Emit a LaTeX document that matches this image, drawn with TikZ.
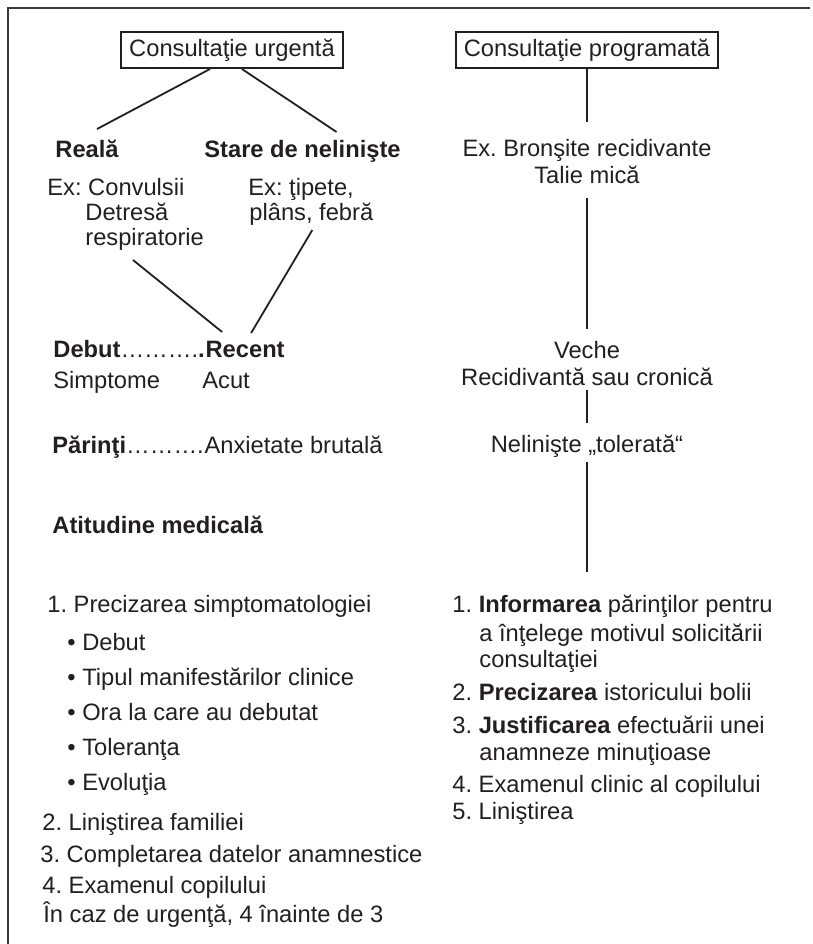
\documentclass[tikz,border=0pt]{standalone}
\usepackage{fontspec}
\setmainfont{Liberation Sans}
\usepackage{tikz}
\usetikzlibrary{positioning,calc}
\definecolor{ink}{HTML}{231F20}
\definecolor{frame}{HTML}{3A3A3A}
\newcommand{\fs}{\fontsize{11.85}{14}\selectfont\frenchspacing}
\tikzset{
  txt/.style={inner sep=0pt,anchor=base west,font=\fs,text=ink},
  mid/.style={inner sep=0pt,anchor=base,font=\fs,text=ink},
  hd/.style={txt,font=\fs\bfseries},
  caseta/.style={draw=ink,line width=1pt,inner xsep=4pt,inner ysep=0pt,
                 minimum height=18pt,font=\fs,text=ink},
  link/.style={draw=ink,line width=0.9pt},
}

\begin{document}
\begin{tikzpicture}[x=0.5pt,y=-0.5pt]
    \useasboundingbox (0,0) rectangle (813,944);
    \draw[frame,line width=1pt] (810,8) -- (8,8) -- (8,944);
    % Urgent consultation
    \node[caseta] (urg) at (232,50) {Consultaţie urgentă};
    \node[hd] (real) at (55,157) {Reală};
    \node[hd] (stare) at (204,157) {Stare de nelinişte};
    \node[txt] (exa) at (47,195) {Ex: Convulsii};
    \node[txt] (exb) at (85,220) {Detresă};
    \node[txt] (exc) at (85,245) {respiratorie};
    \node[txt] (exd) at (248,195) {Ex: ţipete,};
    \node[txt] (exe) at (249,220) {plâns, febră};
    \node[txt] (deb) at (53,357) {\textbf{Debut}……….\textbf{.}};
    \node[hd] (rec) at (deb.base east) {Recent};
    \node[txt] (simp) at (53,388) {Simptome};
    \node[txt] (acut) at (202,388) {Acut};
    \node[txt] (par) at (52,453) {\textbf{Părinţi}……….};
    \node[txt] (anx) at (par.base east) {Anxietate brutală};
    \node[hd] (atit) at (52,533) {Atitudine medicală};
    \draw[link] ($(urg.south)+(-22,0)$) -- ($(real.base)+(10,-28)$);
    \draw[link] ($(urg.south)+(10,0)$) -- ($(stare.base)+(34,-25)$);
    \draw[link] ($(exc.base west)+(48,15)$) -- ($(rec.base)+(-23,-25)$);
    \draw[link] ($(exe.base)+(1,10)$) -- ($(rec.base)+(6,-24)$);
    % Left list
    \node[txt] (l1) at (47,612) {1. Precizarea simptomatologiei};
    \foreach \y/\lab [count=\k] in {650/Debut,685/Tipul manifestărilor clinice,
        720/Ora la care au debutat,755/Toleranţa,790/Evoluţia}{
      \node[txt] (b\k) at (67,\y) {•\ \lab};
    }
    \node[txt] (l2) at (42,830) {2. Liniştirea familiei};
    \node[txt] (l3) at (40,862) {3. Completarea datelor anamnestice};
    \node[txt] (l4) at (42,893) {4. Examenul copilului};
    \node[txt] (l5) at (43,922) {În caz de urgenţă, 4 înainte de 3};
    % Scheduled consultation
    \node[caseta] (prog) at (587,50) {Consultaţie programată};
    \node[mid] (bra) at (587,156) {Ex. Bronşite recidivante};
    \node[mid] (brb) at (587,183) {Talie mică};
    \node[mid] (vec) at (587,358) {Veche};
    \node[mid] (cro) at (587,385) {Recidivantă sau cronică};
    \node[mid] (nel) at (587,452) {Nelinişte „tolerată“};
    \coordinate (capat) at (587,572);
    \draw[link] (prog.south) -- ($(bra.base)+(0,-34)$);
    \draw[link] ($(brb.base)+(0,15)$) -- ($(vec.base)+(0,-29)$);
    \draw[link] ($(cro.base)+(0,5)$) -- ($(nel.base)+(0,-29)$);
    \draw[link] ($(nel.base)+(0,10)$) -- (capat);
    % Right list
    \foreach \x/\y/\lab [count=\k] in {452/612/{1. \textbf{Informarea} părinţilor pentru},
        479/641/{a înţelege motivul solicitării},479/667/consultaţiei,
        452/700/{2. \textbf{Precizarea} istoricului bolii},
        452/733/{3. \textbf{Justificarea} efectuării unei},479/760/{anamneze minuţioase},
        452/792/{4. Examenul clinic al copilului},452/819/{5. Liniştirea}}{
      \node[txt] (r\k) at (\x,\y) {\lab};
    }
\end{tikzpicture}
\end{document}
